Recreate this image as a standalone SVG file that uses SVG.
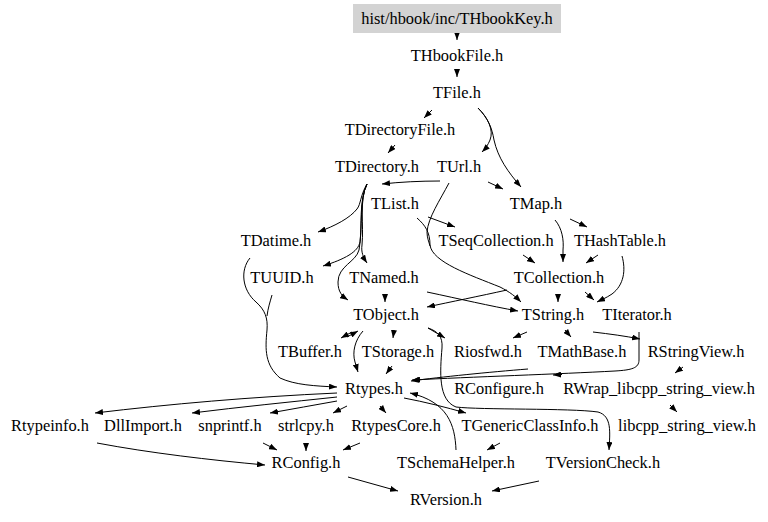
<svg xmlns="http://www.w3.org/2000/svg" width="768" height="522" viewBox="0 0 768 522">
<style>
text{font-family:"Liberation Serif","Times New Roman",serif;font-size:16.4px;fill:#000;text-anchor:middle}
.e path{fill:none;stroke:#000;stroke-width:1;marker-end:url(#a)}
.e path.n{marker-end:none}
</style>
<defs>
<marker id="a" viewBox="0 0 8 6" refX="8" refY="3" markerWidth="8" markerHeight="6" markerUnits="userSpaceOnUse" orient="auto">
<path d="M0,0 L8,3 L0,6 z" fill="#000"/>
</marker>
</defs>
<rect width="768" height="522" fill="#fff"/>
<g class="e" id="edges">
<path d="M457,33 L457,40"/>
<path d="M457,70 L457,77"/>
<path d="M432,110 L424,118"/>
<path d="M478,108 C488,118 494,130 490,140 C488,145 485,149 482,152"/>
<path d="M478,108 C488,118 492,128 494,140 C498,158 508,172 521,187"/>
<path d="M395,145 L388,153"/>
<path d="M440,181 C420,181 400,182 382,184"/>
<path d="M488,182 L503,189"/>
<path d="M367,184 C360,196 361,204 357,209 C350,218 335,226 318,232"/>
<path d="M367,184 C359,200 362,225 360,242 C358,252 345,259 323,266"/>
<path d="M367,184 C359,200 364,225 362,245 C361,252 363,257 367,263"/>
<path d="M367,184 C359,200 363,228 359,250 C356,262 338,266 338,282 C338,292 342,296 348,300"/>
<path d="M428,217 L455,227"/>
<path d="M417,218 C425,225 430,232 430,245 C432,262 470,275 500,287 C510,292 516,297 521,302"/>
<path class="n" d="M449,183 C440,200 428,218 427,232 C427,238 429,242 430,246"/>
<path d="M570,219 L587,227"/>
<path d="M555,220 C562,228 564,240 563,250 L563,262"/>
<path d="M523,255 L535,263"/>
<path d="M598,255 L586,263"/>
<path d="M622,256 C626,270 624,285 612,294 C606,298 601,300 597,302"/>
<path d="M585,292 L594,300"/>
<path d="M558,294 L558,302"/>
<path d="M507,290 C480,296 450,302 427,307"/>
<path d="M427,292 C460,299 490,306 518,311"/>
<path d="M385,294 L385,302"/>
<path d="M352,332 L341,338"/>
<path d="M347,337 L358,331"/>
<path d="M394,330 L393,338"/>
<path d="M363,331 C355,340 352,352 355,362 L358,372"/>
<path d="M392,366 L386,374"/>
<path d="M428,328 L445,338"/>
<path d="M428,328 C437,331 443,336 442,348 C440,372 438,400 456,407 C480,410 570,408 598,412 C612,416 610,432 609,450"/>
<path d="M527,332 L513,338"/>
<path d="M565,330 L571,337"/>
<path d="M593,332 C610,334 625,336 640,339"/>
<path d="M683,367 L675,373"/>
<path d="M670,405 L677,412"/>
<path d="M639,332 L639,360 C639,368 632,370 615,371 C560,374 470,377 412,380"/>
<path d="M562,374.5 L553,375"/>
<path d="M528,369 C490,372 440,377 411,381"/>
<path d="M250,258 C240,270 242,290 256,302 C265,310 268,318 267,330 C265,350 265,365 280,378 C295,385 315,386 337,387"/>
<path class="n" d="M272,295 C270,302 268,308 267,316"/>
<path d="M337,393 C250,397 170,404 95,413"/>
<path d="M337,397 C290,402 240,407 192,413"/>
<path d="M337,401 C315,405 292,409 270,413"/>
<path d="M347,406 L333,413"/>
<path d="M380,406 L386,413"/>
<path d="M404,398 C425,402 445,407 466,413"/>
<path d="M456,450 C455,425 448,402 410,393"/>
<path d="M500,443 L487,450"/>
<path d="M263,443 L277,450"/>
<path d="M306,443 L306,451"/>
<path d="M360,443 L343,450"/>
<path d="M97,443 C150,453 210,460 265,465"/>
<path d="M348,477 L398,491"/>
<path d="M539,481 L492,491"/>
</g>
<g id="THbookKey"><rect x="353" y="4" width="208" height="29" fill="#d3d3d3"/><text x="457" y="24">hist/hbook/inc/THbookKey.h</text></g>
<g id="THbookFile"><text x="457" y="61">THbookFile.h</text></g>
<g id="TFile"><text x="457" y="98">TFile.h</text></g>
<g id="TDirectoryFile"><text x="400" y="135">TDirectoryFile.h</text></g>
<g id="TDirectory"><text x="377" y="172">TDirectory.h</text></g>
<g id="TUrl"><text x="459" y="172">TUrl.h</text></g>
<g id="TList"><text x="395" y="209">TList.h</text></g>
<g id="TMap"><text x="536" y="209">TMap.h</text></g>
<g id="TDatime"><text x="276" y="246">TDatime.h</text></g>
<g id="TSeqCollection"><text x="496" y="246">TSeqCollection.h</text></g>
<g id="THashTable"><text x="620" y="246">THashTable.h</text></g>
<g id="TUUID"><text x="282" y="283">TUUID.h</text></g>
<g id="TNamed"><text x="384" y="283">TNamed.h</text></g>
<g id="TCollection"><text x="559" y="283">TCollection.h</text></g>
<g id="TObject"><text x="386" y="320">TObject.h</text></g>
<g id="TString"><text x="553" y="320">TString.h</text></g>
<g id="TIterator"><text x="637" y="320">TIterator.h</text></g>
<g id="TBuffer"><text x="310" y="357">TBuffer.h</text></g>
<g id="TStorage"><text x="398" y="357">TStorage.h</text></g>
<g id="Riosfwd"><text x="488" y="357">Riosfwd.h</text></g>
<g id="TMathBase"><text x="582" y="357">TMathBase.h</text></g>
<g id="RStringView"><text x="696" y="357">RStringView.h</text></g>
<g id="Rtypes"><text x="374" y="394">Rtypes.h</text></g>
<g id="RConfigure"><text x="499" y="394">RConfigure.h</text></g>
<g id="RWrap"><text x="659" y="394">RWrap_libcpp_string_view.h</text></g>
<g id="Rtypeinfo"><text x="50" y="431">Rtypeinfo.h</text></g>
<g id="DllImport"><text x="143" y="431">DllImport.h</text></g>
<g id="snprintf"><text x="230" y="431">snprintf.h</text></g>
<g id="strlcpy"><text x="306" y="431">strlcpy.h</text></g>
<g id="RtypesCore"><text x="396" y="431">RtypesCore.h</text></g>
<g id="TGenericClassInfo"><text x="530" y="431">TGenericClassInfo.h</text></g>
<g id="libcpp_string_view"><text x="687" y="431">libcpp_string_view.h</text></g>
<g id="RConfig"><text x="306" y="468">RConfig.h</text></g>
<g id="TSchemaHelper"><text x="456" y="468">TSchemaHelper.h</text></g>
<g id="TVersionCheck"><text x="603" y="468">TVersionCheck.h</text></g>
<g id="RVersion"><text x="446" y="505">RVersion.h</text></g>
</svg>
